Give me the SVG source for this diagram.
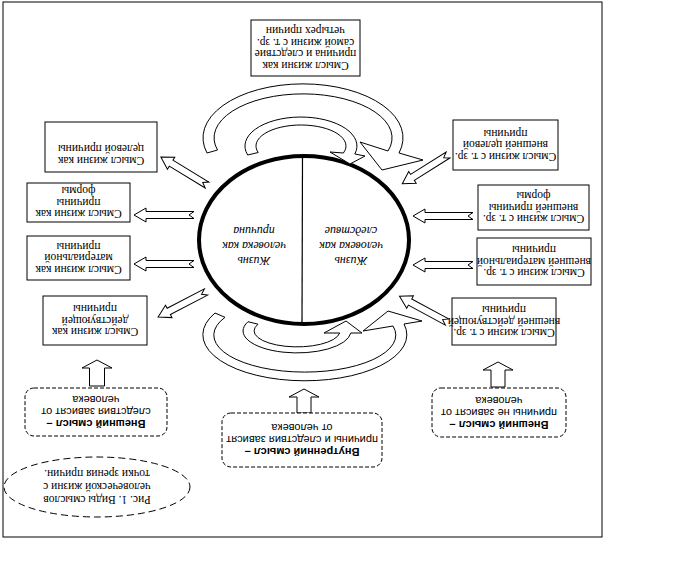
<svg xmlns="http://www.w3.org/2000/svg" xmlns:xlink="http://www.w3.org/1999/xlink" width="699" height="576" viewBox="0 0 699 576">
<style>
.box{fill:#fff;stroke:#000;stroke-width:1}
.dbox{fill:#fff;stroke:#000;stroke-width:1;stroke-dasharray:4 2}
.arr{fill:#fff;stroke:#000;stroke-width:1;stroke-linejoin:miter}
.t{font-family:"Liberation Serif","Times New Roman",serif;font-size:11.5px;text-anchor:middle;fill:#000}
.s{font-family:"Liberation Sans",Arial,sans-serif;font-size:11px;text-anchor:middle;fill:#000}
.b{font-weight:bold}
.c{font-family:"Liberation Serif","Times New Roman",serif;font-style:italic;font-size:12px;text-anchor:middle;fill:#000}
</style>
<defs>
<path id="na60" d="M0,-3.5 H48 V-7 L60,0 L48,7 V3.5 H0 L5,0 Z"/>
<path id="na54" d="M0,-3.5 H42 V-7 L54,0 L42,7 V3.5 H0 L5,0 Z"/>
</defs>
<rect x="0" y="0" width="699" height="576" fill="#fff"/>
<rect x="3" y="2" width="599" height="535" fill="none" stroke="#000" stroke-width="1"/>

<g id="center-circle">
<ellipse cx="304" cy="240" rx="105" ry="84" fill="#fff" stroke="#000" stroke-width="4"/>
<line x1="302.5" y1="158" x2="302" y2="323" stroke="#000" stroke-width="1.2"/>
<g transform="rotate(180 254 246)"><text class="c"><tspan x="254" y="235">Жизнь</tspan><tspan x="254" y="250">человека как</tspan><tspan x="254" y="265">причина</tspan></text></g>
<g transform="rotate(180 351 246)"><text class="c"><tspan x="351" y="235">Жизнь</tspan><tspan x="351" y="250">человека как</tspan><tspan x="351" y="265">следствие</tspan></text></g>
</g>

<g id="connectors">
<path class="arr" d="M207,153 A100 54 0 1 1 399,153 L423,160 L382,170 L360,142 L388,151 A89 44 0 1 0 217.5,150 Z"/>
<path class="arr" d="M247.7,155 A56 29 0 1 1 354.8,154 L365,156 L350,164 L330,152 L343.4,153 A45 21 0 1 0 258.2,152.5 Z"/>
<path class="arr" d="M215,313 A102 46 0 1 0 404,324 L422,321 L388,311 L363,331 L393,326 A91 37 0 1 1 225,317.3 Z"/>
<path class="arr" d="M248,321.7 A54 22 0 1 0 350.8,333 L362,333 L346,321 L324,333 L339.7,333 A43 16 0 1 1 258,324.2 Z"/>
<use xlink:href="#na60" class="arr" transform="translate(194,215) rotate(180)"/>
<use xlink:href="#na60" class="arr" transform="translate(194,264) rotate(180)"/>
<use xlink:href="#na60" class="arr" transform="translate(473,216) rotate(180)"/>
<use xlink:href="#na60" class="arr" transform="translate(473,265) rotate(180)"/>
<use xlink:href="#na54" class="arr" transform="translate(207,185) rotate(211.3)"/>
<use xlink:href="#na54" class="arr" transform="translate(206,292) rotate(152.5)"/>
<use xlink:href="#na54" class="arr" transform="translate(448,155) rotate(147.8)"/>
<use xlink:href="#na54" class="arr" transform="translate(447,322) rotate(208.4)"/>
<polygon class="arr" points="89.5,386 89.5,368 82,368 97,360 112,368 104.5,368 104.5,386"/>
<polygon class="arr" points="491,387 491,370 483,370 498,362 513,370 505,370 505,387"/>
<polygon class="arr" points="297,413 297,397 289,397 304,389 319,397 311,397 311,413"/>
</g>

<g id="box-top">
<rect class="box" x="251" y="20" width="109" height="56"/>
<g transform="rotate(180 305.5 48)"><text class="t"><tspan x="305.5" y="34.5">Смысл жизни как</tspan><tspan x="305.5" y="46">причина и следствие</tspan><tspan x="305.5" y="57.5">самой жизни с т. зр.</tspan><tspan x="305.5" y="69">четырех причин</tspan></text></g>
</g>

<g id="box-l1">
<rect class="box" x="45" y="122" width="112" height="50"/>
<g transform="rotate(180 101 147)"><text class="t"><tspan x="101" y="137">Смысл жизни как</tspan><tspan x="101" y="149">целевой причины</tspan></text></g>
</g>
<g id="box-l2">
<rect class="box" x="27" y="183" width="103" height="39"/>
<g transform="rotate(180 78.5 202.5)"><text class="t"><tspan x="78.5" y="195">Смысл жизни как</tspan><tspan x="78.5" y="206.5">причины</tspan><tspan x="78.5" y="218">формы</tspan></text></g>
</g>
<g id="box-l3">
<rect class="box" x="27" y="236" width="103" height="44"/>
<g transform="rotate(180 78.5 258)"><text class="t"><tspan x="78.5" y="250.5">Смысл жизни как</tspan><tspan x="78.5" y="262">материальной</tspan><tspan x="78.5" y="273.5">причины</tspan></text></g>
</g>
<g id="box-l4">
<rect class="box" x="43" y="296" width="104" height="49"/>
<g transform="rotate(180 95 320.5)"><text class="t"><tspan x="95" y="313">Смысл жизни как</tspan><tspan x="95" y="324.5">действующей</tspan><tspan x="95" y="336">причины</tspan></text></g>
</g>

<g id="box-r1">
<rect class="box" x="453" y="120" width="105" height="50"/>
<g transform="rotate(180 505.5 145)"><text class="t"><tspan x="505.5" y="137.5">Смысл жизни с т. зр.</tspan><tspan x="505.5" y="149">внешней целевой</tspan><tspan x="505.5" y="160.5">причины</tspan></text></g>
</g>
<g id="box-r2">
<rect class="box" x="478" y="185" width="111" height="45"/>
<g transform="rotate(180 533.5 207.5)"><text class="t"><tspan x="533.5" y="200">Смысл жизни с т. зр.</tspan><tspan x="533.5" y="211.5">внешней причины</tspan><tspan x="533.5" y="223">формы</tspan></text></g>
</g>
<g id="box-r3">
<rect class="box" x="477" y="238" width="114" height="47"/>
<g transform="rotate(180 534 261.5)"><text class="t"><tspan x="534" y="254">Смысл жизни с т. зр.</tspan><tspan x="534" y="265.5">внешней материальной</tspan><tspan x="534" y="277">причины</tspan></text></g>
</g>
<g id="box-r4">
<rect class="box" x="452" y="298" width="104" height="47"/>
<g transform="rotate(180 504 321.5)"><text class="t"><tspan x="504" y="314">Смысл жизни с т. зр.</tspan><tspan x="504" y="325.5">внешней действующей</tspan><tspan x="504" y="337">причины</tspan></text></g>
</g>

<g id="dbox-left">
<rect class="dbox" x="25" y="388" width="142" height="48" rx="9"/>
<g transform="rotate(180 96 412)"><text class="s"><tspan class="b" x="96" y="404">Внешний смысл –</tspan><tspan x="96" y="416">следствия зависят от</tspan><tspan x="96" y="428">человека</tspan></text></g>
</g>
<g id="dbox-center">
<rect class="dbox" x="222" y="413" width="160" height="54" rx="9"/>
<g transform="rotate(180 302 440)"><text class="s"><tspan class="b" x="302" y="432">Внутренний смысл –</tspan><tspan x="302" y="444">причины и следствия зависят</tspan><tspan x="302" y="456">от человека</tspan></text></g>
</g>
<g id="dbox-right">
<rect class="dbox" x="432" y="388" width="134" height="49" rx="9"/>
<g transform="rotate(180 499 412.5)"><text class="s"><tspan class="b" x="499" y="404.5">Внешний смысл –</tspan><tspan x="499" y="416.5">причины не зависят от</tspan><tspan x="499" y="428.5">человека</tspan></text></g>
</g>

<g id="caption">
<ellipse cx="97" cy="487" rx="93" ry="30" fill="#fff" stroke="#000" stroke-width="1" stroke-dasharray="7 4"/>
<g transform="rotate(180 97 487)"><text class="t"><tspan x="97" y="478">Рис. 1.  Виды смыслов</tspan><tspan x="97" y="491">человеческой жизни с</tspan><tspan x="97" y="504">точки зрения причин.</tspan></text></g>
</g>
</svg>
